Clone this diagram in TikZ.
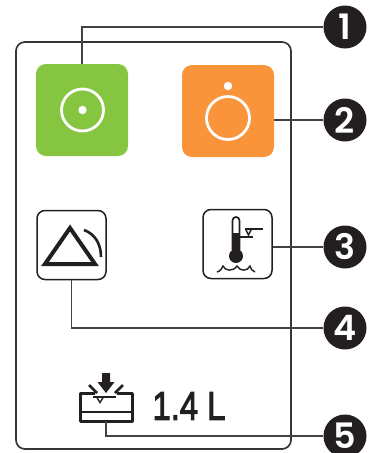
\documentclass[tikz,border=0pt]{standalone}
\usepackage{fontspec}
\setmainfont{Liberation Sans}
\newfontfamily\numfont{Poppins SemiBold}
\newfontfamily\volfont[FakeBold=3]{Liberation Sans}
\definecolor{lampgreen}{HTML}{86C540}
\definecolor{lamporange}{HTML}{F9943B}
\definecolor{inkblack}{HTML}{231F20}
\tikzset{
  lamp/.style={minimum size=92pt,inner sep=0pt,rounded corners=10pt},
  iconbox/.style={draw=inkblack,line width=1.5pt,minimum size=69pt,inner sep=0pt,rounded corners=8pt},
  callout/.style={circle,fill=inkblack,text=white,minimum size=43pt,inner sep=0pt,font=\numfont\fontsize{35}{35}\selectfont},
  leader/.style={draw=inkblack!85,line width=1.1pt},
  ring/.style={draw=white,line width=2.8pt},
  glyph/.style={draw=inkblack,line width=1.4pt},
}
\begin{document}
\begin{tikzpicture}[x=1pt,y=-1pt]
  \useasboundingbox (0,0) rectangle (368,453);
  \draw[inkblack!90,line width=1.7pt,rounded corners=9pt] (16,42) rectangle (291,449);
  % lamps
  \node[lamp,fill=lampgreen] (green) at (82,110) {};
  \node[lamp,fill=lamporange] (orange) at (228,111) {};
  \draw[ring] (82.5,110) circle (21);
  \fill[white] (82.5,110) circle (4.2);
  \draw[ring] (228,118) circle (21.5);
  \fill[white] (228,86) circle (4.2);
  % icon boxes
  \node[iconbox] (triangle) at (71.5,245) {};
  \node[iconbox] (thermo) at (237.5,244) {};
  \draw[inkblack,line width=4pt,miter limit=10] (70,228) -- (45,264) -- (95,264) -- cycle;
  \draw[inkblack,line width=2.6pt] (84,230) .. controls (95,234) and (101,244) .. (101,257);
  % thermometer
  \draw[glyph,line width=1.7pt] (232.5,250) -- (232.5,220.5) arc (180:360:3.5) -- (239.5,250);
  \fill[inkblack] (232.5,233) rectangle (239.5,252);
  \fill[inkblack] (236,256) circle (7);
  \draw[glyph] (239,237) -- (253,237);
  \draw[glyph] (245,229) -- (263,229);
  \draw[glyph] (245.5,229) -- (248.5,235) -- (251.5,229);
  \draw[glyph] (217,272) .. controls (221,271) and (222,268) .. (223,266) .. controls (225,271) and (233,272) .. (237,266) .. controls (240,272) and (248,271) .. (250,266) .. controls (251,269) and (252,271) .. (255,272);
  % tank
  \coordinate (tankbottom) at (106,421);
  \draw[inkblack,line width=3pt,line join=round] (95,393) -- (80,393) -- (80,421) -- (132,421) -- (132,393) -- (117,393);
  \draw[inkblack,line width=1.8pt] (80,412) -- (132,412);
  \fill[inkblack] (102,373) -- (110,373) -- (110,382) -- (114.5,382) -- (106,393) -- (97.5,382) -- (102,382) -- cycle;
  \draw[inkblack,line width=2.8pt] (89,385) -- (97,393);
  \draw[inkblack,line width=2.8pt] (123,385) -- (115,393);
  \draw[glyph] (93,397) -- (116,397);
  \draw[glyph] (96.5,397) -- (100,402.5) -- (103.5,397);
  \node[text=inkblack,font=\volfont\fontsize{40}{40}\selectfont] (volume) at (189,406) {\scalebox{.82}[1]{1.4 L}};
  % callouts
  \node[callout] (num1) at (345,27) {1};
  \node[callout] (num2) at (345,120) {2};
  \node[callout] (num3) at (345,247) {3};
  \node[callout] (num4) at (345,328) {4};
  \node[callout] (num5) at (345,436) {5};
  \draw[leader] (green.north) |- (num1);
  \draw[leader] (orange.east |- num2) -- (num2);
  \draw[leader] (thermo.east |- num3) -- (num3);
  \draw[leader] (triangle.south) |- (num4);
  \draw[leader] (tankbottom) |- (num5);
\end{tikzpicture}
\end{document}
